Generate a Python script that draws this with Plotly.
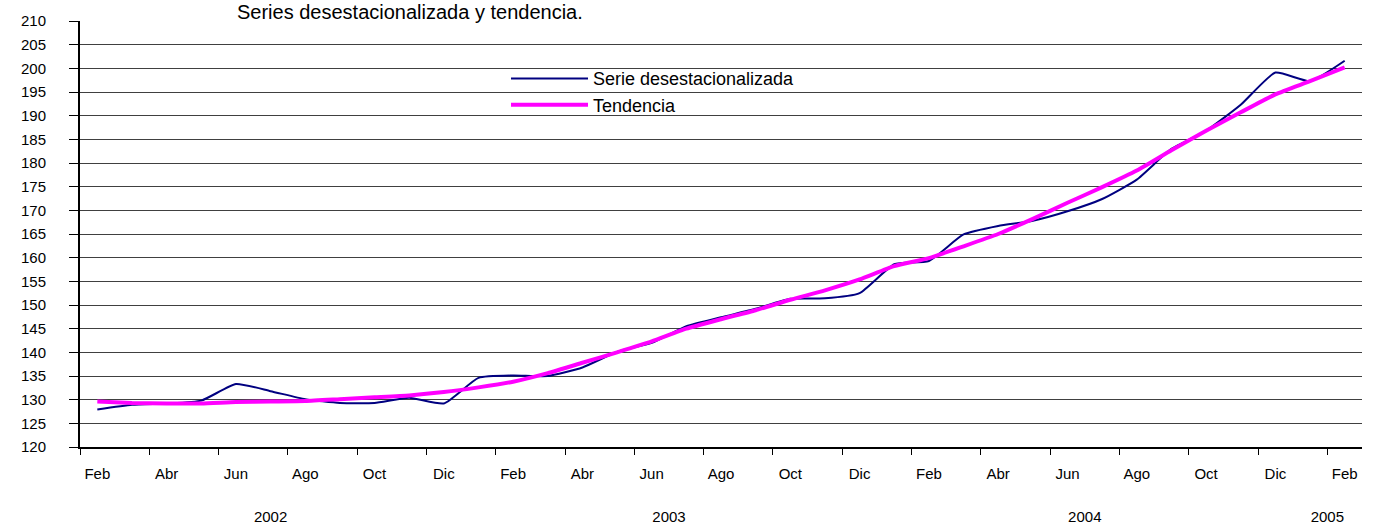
import plotly.graph_objects as go

# ---------------- data ----------------
meses = ["Feb", "Mar", "Abr", "May", "Jun", "Jul", "Ago", "Sep", "Oct", "Nov", "Dic",
         "Ene", "Feb", "Mar", "Abr", "May", "Jun", "Jul", "Ago", "Sep", "Oct", "Nov", "Dic",
         "Ene", "Feb", "Mar", "Abr", "May", "Jun", "Jul", "Ago", "Sep", "Oct", "Nov", "Dic",
         "Ene", "Feb"]
anios = [2002] * 11 + [2003] * 12 + [2004] * 12 + [2005] * 2

serie_desest = [127.9, 128.9, 129.2, 129.8, 133.3, 131.8, 130.1, 129.3, 129.3, 130.4, 129.2,
                134.6, 135.1, 135.0, 136.8, 140.1, 142.0, 145.5, 147.4, 149.2, 151.3, 151.4, 152.5,
                158.6, 159.3, 164.9, 166.7, 167.8, 169.8, 172.4, 176.5, 183.0, 186.8, 192.3, 199.1,
                197.3, 201.6]
tendencia = [129.6, 129.3, 129.2, 129.2, 129.5, 129.6, 129.7, 130.1, 130.5, 130.9, 131.6,
             132.6, 133.8, 135.6, 137.8, 140.0, 142.3, 145.0, 147.0, 148.9, 151.1, 153.1, 155.4,
             158.2, 159.9, 162.4, 165.0, 168.2, 171.6, 174.9, 178.4, 182.7, 186.8, 190.7, 194.5,
             197.3, 200.2]

titulo = "Series desestacionalizada y tendencia."
nombres = ["Serie desestacionalizada", "Tendencia"]
y_min, y_max, y_paso = 120, 210, 5

# ---------------- derived positions ----------------
x = list(range(len(meses)))
etiquetas_pos = x[::2]
etiquetas_txt = meses[::2]
limites = [i - 0.5 for i in x[::2]]
anios_unicos = sorted(set(anios))
anios_pos = []
for a in anios_unicos:
    idx = [i for i, v in enumerate(anios) if v == a]
    anios_pos.append((idx[0] + idx[-1]) / 2)
anios_txt = [str(a) for a in anios_unicos]
xr = [-0.5, len(meses) - 0.5]

FONT = "Liberation Sans, Arial, sans-serif"

fig = go.Figure()
fig.add_trace(go.Scatter(x=x, y=serie_desest, name=nombres[0], mode="lines",
                         line=dict(color="#000080", width=2, shape="spline", smoothing=0.5)))
fig.add_trace(go.Scatter(x=x, y=tendencia, name=nombres[1], mode="lines",
                         line=dict(color="#FF00FF", width=4, shape="spline", smoothing=0.5)))
# invisible helper trace so the year axis is drawn
fig.add_trace(go.Scatter(x=anios_pos, y=[None] * len(anios_pos), xaxis="x2", yaxis="y",
                         mode="markers", showlegend=False, hoverinfo="skip"))

fig.update_layout(
    width=1375, height=524,
    paper_bgcolor="white", plot_bgcolor="white",
    margin=dict(l=80, r=13, t=21, b=77, pad=0, autoexpand=False),
    font=dict(family=FONT, size=15, color="black"),
    title=dict(text=titulo, x=237 / 1375, xref="container", xanchor="left",
               y=1 - 5 / 524, yref="container", yanchor="top", automargin=False,
               pad=dict(t=0, b=0, l=0, r=0),
               font=dict(family=FONT, size=20, color="black")),
    showlegend=True,
    legend=dict(x=0.3323, y=0.908, xanchor="left", yanchor="top",
                bgcolor="rgba(0,0,0,0)", font=dict(family=FONT, size=18, color="black"),
                tracegroupgap=0, itemwidth=77),
    xaxis=dict(range=xr, tickmode="array", tickvals=etiquetas_pos, ticktext=etiquetas_txt,
               ticks="", showgrid=False, zeroline=False, automargin=False,
               showline=True, linecolor="black", linewidth=2,
               ticklabelstandoff=12,
               minor=dict(tickmode="array", tickvals=limites, ticks="outside", ticklen=6,
                          tickcolor="black", tickwidth=1, showgrid=False)),
    xaxis2=dict(range=xr, overlaying="x", side="bottom", anchor="y", automargin=False,
                tickmode="array", tickvals=anios_pos, ticktext=anios_txt,
                ticks="", showgrid=False, zeroline=False, showline=False,
                showticklabels=True, ticklabelstandoff=59),
    yaxis=dict(range=[y_min, y_max], dtick=y_paso, tick0=y_min, showgrid=True,
               gridcolor="#404040", gridwidth=1, zeroline=False, automargin=False,
               showline=True, linecolor="black", linewidth=2,
               ticks="outside", ticklen=9, tickcolor="black", tickwidth=1,
               ticklabelstandoff=20),
    yaxis2=dict(range=[y_min, y_max], overlaying="y", side="right", anchor="x",
                automargin=False,
                showline=True, linecolor="#808080", linewidth=1,
                showticklabels=False, ticks="", showgrid=False, zeroline=False),
    shapes=[dict(type="rect", xref="paper", yref="paper", x0=0.322, x1=0.6966,
                 y0=0.755, y1=0.915, fillcolor="white", line=dict(width=0), layer="between")],
)

fig.write_html("out.html", config={"displayModeBar": False},
               post_script="document.body.style.margin='0';document.body.style.overflow='hidden';")
